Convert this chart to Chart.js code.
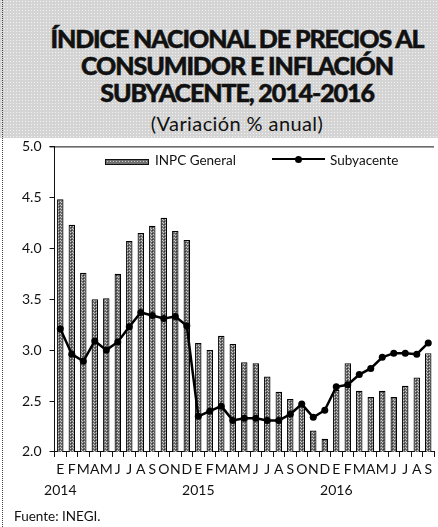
<!DOCTYPE html>
<html lang="es">
<head>
<meta charset="UTF-8">
<title>INPC e inflación subyacente 2014-2016</title>
<script src="https://cdn.jsdelivr.net/npm/chart.js"></script>
<style>
  body {
    margin: 0;
    width: 438px;
    height: 527px;
    position: relative;
    overflow: hidden;
    background: #fff;
    font-family: Lato, "Open Sans", sans-serif;
    color: #111;
  }
  .header {
    position: absolute;
    left: 0; top: 0;
    width: 438px; height: 138px;
    background-color: #d4d4d4;
    background-image: radial-gradient(#f2f2f2 0.7px, transparent 1px);
    background-size: 3px 3px;
  }
  .title {
    position: absolute;
    top: 25px; left: 36px; width: 402px;
    text-align: center;
    font-weight: 900;
    font-size: 25px;
    line-height: 27px;
    letter-spacing: -1.1px;
    -webkit-text-stroke: 0.5px #111;
  }
  .subtitle {
    position: absolute;
    top: 113px; left: 36px; width: 402px;
    text-align: center;
    font-size: 20px;
    line-height: 21px;
    letter-spacing: 0.4px;
  }
  .leftline {
    position: absolute;
    left: 2px; top: 0; bottom: 0;
    border-left: 1px dotted #444;
  }
  .chart-box {
    position: absolute;
    left: 0; top: 130px;
    width: 438px; height: 385px;
  }
  .legend span { position: absolute; }
  .legend .txt { font-size: 13.5px; line-height: 16px; top: 152px; }
  .legend .bar {
    left: 105px; top: 159px; width: 42px; height: 4px;
    border: 1px solid #111;
    background-color: #707070;
    background-image: radial-gradient(#d0d0d0 0.6px, transparent 0.9px);
    background-size: 3px 3px;
  }
  .legend .line { left: 272px; top: 158px; width: 53px; border-top: 2.5px solid #000; }
  .legend .dot { left: 295px; top: 156px; width: 7px; height: 7px; border-radius: 50%; background: #000; }
  .source {
    position: absolute;
    left: 14px; top: 508px;
    font-size: 13.5px;
  }
</style>
</head>
<body>
<div class="header"></div>
<div class="leftline"></div>
<div class="title">ÍNDICE NACIONAL DE PRECIOS AL<br>CONSUMIDOR E INFLACIÓN<br>SUBYACENTE, 2014-2016</div>
<div class="subtitle">(Variación % anual)</div>
<div class="chart-box"><canvas id="chart"></canvas></div>
<div class="legend" id="legend"></div>
<div class="source">Fuente: INEGI.</div>
<script>
// months Jan 2014 - Sep 2016
const months = ["E","F","M","A","M","J","J","A","S","O","N","D",
                "E","F","M","A","M","J","J","A","S","O","N","D",
                "E","F","M","A","M","J","J","A","S"];
const years = {0: "2014", 12: "2015", 24: "2016"};

const inpcGeneral = [4.48, 4.23, 3.76, 3.50, 3.51, 3.75, 4.07, 4.15, 4.22, 4.30, 4.17, 4.08,
                     3.07, 3.00, 3.14, 3.06, 2.88, 2.87, 2.74, 2.59, 2.52, 2.48, 2.21, 2.13,
                     2.61, 2.87, 2.60, 2.54, 2.60, 2.54, 2.65, 2.73, 2.97];
const subyacente = [3.21, 2.96, 2.89, 3.09, 3.00, 3.08, 3.23, 3.37, 3.34, 3.31, 3.33, 3.24,
                    2.35, 2.40, 2.45, 2.31, 2.33, 2.33, 2.31, 2.31, 2.37, 2.47, 2.34, 2.41,
                    2.64, 2.66, 2.76, 2.82, 2.93, 2.97, 2.97, 2.96, 3.07];

const labels = months.map((m, i) => years[i] ? [m, years[i]] : m);

// stippled grey fill like the printed bars
function makePattern() {
    const c = document.createElement("canvas");
    c.width = 3; c.height = 3;
    const g = c.getContext("2d");
    g.fillStyle = "#6c6c6c";
    g.fillRect(0, 0, 3, 3);
    g.fillStyle = "#cdcdcd";
    g.fillRect(1, 0, 1, 1);
    g.fillRect(0, 2, 1, 1);
    g.fillStyle = "#333";
    g.fillRect(2, 1, 1, 1);
    return g.createPattern(c, "repeat");
}
const barFill = makePattern();

// top border of the plot frame
const framePlugin = {
    id: "frame",
    afterDraw(chart) {
        const {ctx, chartArea} = chart;
        ctx.save();
        ctx.strokeStyle = "#111";
        ctx.lineWidth = 1;
        ctx.beginPath();
        ctx.moveTo(chartArea.left - 5, chartArea.top + 0.5);
        ctx.lineTo(chartArea.right, chartArea.top + 0.5);
        ctx.stroke();
        ctx.restore();
    }
};

const font = {family: "Lato, 'Open Sans', sans-serif", size: 14};

const chart = new Chart(document.getElementById("chart"), {
    type: "bar",
    data: {
        labels: labels,
        datasets: [{
            label: "INPC General",
            data: inpcGeneral,
            backgroundColor: barFill,
            borderColor: "#000",
            borderWidth: 1.2,
            barPercentage: 0.56,
            categoryPercentage: 1,
            order: 2
        }, {
            type: "line",
            label: "Subyacente",
            data: subyacente,
            borderColor: "#000",
            backgroundColor: "#000",
            borderWidth: 2.5,
            pointRadius: 3.5,
            pointBackgroundColor: "#000",
            pointBorderWidth: 0,
            tension: 0,
            order: 1
        }]
    },
    options: {
        responsive: true,
        maintainAspectRatio: false,
        animation: false,
        layout: {padding: {left: 14, right: 0, top: 15, bottom: 12}},
        plugins: {
            tooltip: {enabled: false},
            legend: {display: false}
        },
        scales: {
            x: {
                offset: true,
                grid: {display: true, drawOnChartArea: false, offset: true, tickLength: 5, color: "#111"},
                border: {display: true, color: "#111", width: 1},
                ticks: {
                    autoSkip: false,
                    maxRotation: 0,
                    padding: 3,
                    color: "#111",
                    font: {family: font.family, size: 14, lineHeight: 1.43}
                }
            },
            y: {
                min: 2,
                max: 5,
                grid: {display: true, drawOnChartArea: false, tickLength: 5, color: "#111"},
                border: {display: true, color: "#111", width: 1},
                ticks: {
                    stepSize: 0.5,
                    padding: 8,
                    color: "#111",
                    font: font,
                    callback: v => v.toFixed(1)
                }
            }
        }
    },
    plugins: [framePlugin]
});

// legend drawn in HTML, inside the plot frame
const legend = document.getElementById("legend");
legend.innerHTML =
    '<span class="bar"></span><span class="txt" style="left:155px">' + chart.data.datasets[0].label + '</span>' +
    '<span class="line"></span><span class="dot"></span><span class="txt" style="left:330px">' + chart.data.datasets[1].label + '</span>';
</script>
</body>
</html>
